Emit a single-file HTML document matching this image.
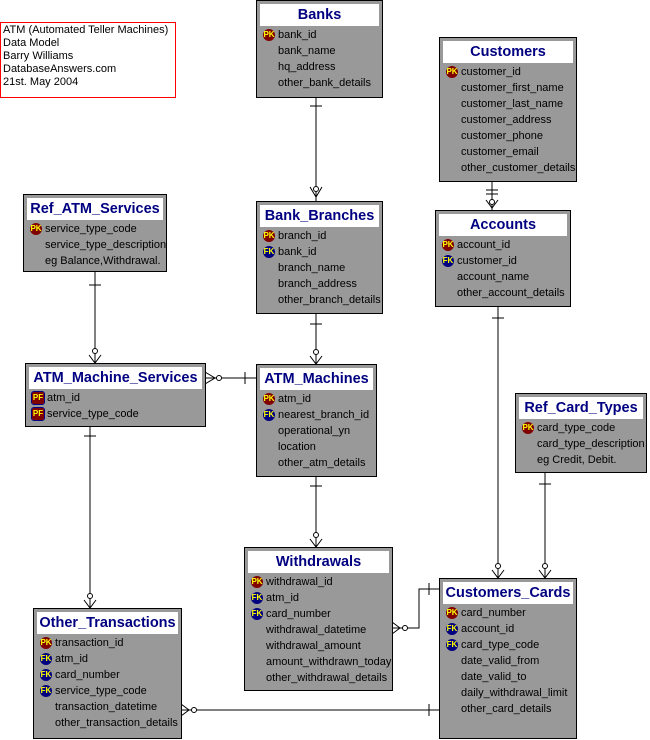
<!DOCTYPE html>
<html><head><meta charset="utf-8"><style>
body{margin:0;width:650px;height:740px;background:#fff;position:relative;overflow:hidden;font-family:"Liberation Sans",Arial,sans-serif;}
.e{position:absolute;background:#999;border:1px solid #000;box-sizing:border-box;}
.t{margin:3px 3px 1px 3px;background:#fff;height:22px;line-height:22px;text-align:center;color:#000080;font-weight:bold;font-size:14.5px;white-space:nowrap;}
.r{height:16px;line-height:16px;font-size:11px;color:#000;padding-left:21px;position:relative;white-space:nowrap;}
.i{position:absolute;left:6px;top:2px;width:12px;height:12px;border-radius:6px;font-size:8px;line-height:12px;text-align:center;color:#ff0;font-weight:bold;}
.pk{background:#800000;}
.fk{background:#000080;}
.pf{background:#800000;border-radius:2px;outline:1px solid #000080;}
#note{position:absolute;left:0;top:22px;width:176px;height:76px;border:1px solid #f00;box-sizing:border-box;font-size:11px;line-height:13px;padding:1px 2px;}
svg{position:absolute;left:0;top:0;}
</style></head><body>
<div id="note">ATM (Automated Teller Machines)<br>Data Model<br>Barry Williams<br>DatabaseAnswers.com<br>21st. May 2004</div>
<svg width="650" height="740" stroke="#000" fill="none" stroke-width="1">
<path d="M316 97V201M310 106H322M310 187L316 197L322 187M316 187V201"/><circle cx="316" cy="189" r="2.5" fill="#fff"/>
<path d="M492 181V210M486 190H498M486 194H498M486 200L492 208L498 200"/><circle cx="492" cy="202" r="2.5" fill="#fff"/>
<path d="M95 271V363M89 285H101M89 355L95 363L101 355"/><circle cx="95" cy="351" r="2.5" fill="#fff"/>
<path d="M316 313V364M310 324H322M310 356L316 364L322 356"/><circle cx="316" cy="352" r="2.5" fill="#fff"/>
<path d="M205 378H256M245 372V384M205 372L215 378L205 384"/><circle cx="219" cy="378" r="2.5" fill="#fff"/>
<path d="M498 306V578M492 318H504M492 570L498 578L504 570"/><circle cx="498" cy="566" r="2.5" fill="#fff"/>
<path d="M545 472V578M539 484H551M539 570L545 578L551 570"/><circle cx="545" cy="566" r="2.5" fill="#fff"/>
<path d="M316 476V547M310 486H322M310 539L316 547L322 539"/><circle cx="316" cy="535" r="2.5" fill="#fff"/>
<path d="M90 426V608M84 436H96M84 600L90 608L96 600"/><circle cx="90" cy="596" r="2.5" fill="#fff"/>
<path d="M392 628H419V589H439M429 583V595M392 622L400 628L392 634"/><circle cx="405" cy="628" r="2.5" fill="#fff"/>
<path d="M181 710H439M429 704V716M181 704L189 710L181 716"/><circle cx="194" cy="710" r="2.5" fill="#fff"/>
</svg>

<div class="e" style="left:256px;top:0;width:127px;height:98px"><div class="t">Banks</div>
<div class="r"><span class="i pk">PK</span>bank_id</div><div class="r">bank_name</div><div class="r">hq_address</div><div class="r">other_bank_details</div></div>

<div class="e" style="left:439px;top:37px;width:138px;height:145px"><div class="t">Customers</div>
<div class="r"><span class="i pk">PK</span>customer_id</div><div class="r">customer_first_name</div><div class="r">customer_last_name</div><div class="r">customer_address</div><div class="r">customer_phone</div><div class="r">customer_email</div><div class="r">other_customer_details</div></div>

<div class="e" style="left:23px;top:194px;width:144px;height:78px"><div class="t">Ref_ATM_Services</div>
<div class="r"><span class="i pk">PK</span>service_type_code</div><div class="r">service_type_description</div><div class="r">eg Balance,Withdrawal.</div></div>

<div class="e" style="left:256px;top:201px;width:127px;height:113px"><div class="t">Bank_Branches</div>
<div class="r"><span class="i pk">PK</span>branch_id</div><div class="r"><span class="i fk">FK</span>bank_id</div><div class="r">branch_name</div><div class="r">branch_address</div><div class="r">other_branch_details</div></div>

<div class="e" style="left:435px;top:210px;width:136px;height:97px"><div class="t">Accounts</div>
<div class="r"><span class="i pk">PK</span>account_id</div><div class="r"><span class="i fk">FK</span>customer_id</div><div class="r">account_name</div><div class="r">other_account_details</div></div>

<div class="e" style="left:25px;top:363px;width:181px;height:64px"><div class="t">ATM_Machine_Services</div>
<div class="r"><span class="i pf">PF</span>atm_id</div><div class="r"><span class="i pf">PF</span>service_type_code</div></div>

<div class="e" style="left:256px;top:364px;width:121px;height:113px"><div class="t">ATM_Machines</div>
<div class="r"><span class="i pk">PK</span>atm_id</div><div class="r"><span class="i fk">FK</span>nearest_branch_id</div><div class="r">operational_yn</div><div class="r">location</div><div class="r">other_atm_details</div></div>

<div class="e" style="left:515px;top:393px;width:132px;height:80px"><div class="t">Ref_Card_Types</div>
<div class="r"><span class="i pk">PK</span>card_type_code</div><div class="r">card_type_description</div><div class="r">eg Credit, Debit.</div></div>

<div class="e" style="left:244px;top:547px;width:149px;height:144px"><div class="t">Withdrawals</div>
<div class="r"><span class="i pk">PK</span>withdrawal_id</div><div class="r"><span class="i fk">FK</span>atm_id</div><div class="r"><span class="i fk">FK</span>card_number</div><div class="r">withdrawal_datetime</div><div class="r">withdrawal_amount</div><div class="r">amount_withdrawn_today</div><div class="r">other_withdrawal_details</div></div>

<div class="e" style="left:439px;top:578px;width:138px;height:161px"><div class="t">Customers_Cards</div>
<div class="r"><span class="i pk">PK</span>card_number</div><div class="r"><span class="i fk">FK</span>account_id</div><div class="r"><span class="i fk">FK</span>card_type_code</div><div class="r">date_valid_from</div><div class="r">date_valid_to</div><div class="r">daily_withdrawal_limit</div><div class="r">other_card_details</div></div>

<div class="e" style="left:33px;top:608px;width:149px;height:131px"><div class="t">Other_Transactions</div>
<div class="r"><span class="i pk">PK</span>transaction_id</div><div class="r"><span class="i fk">FK</span>atm_id</div><div class="r"><span class="i fk">FK</span>card_number</div><div class="r"><span class="i fk">FK</span>service_type_code</div><div class="r">transaction_datetime</div><div class="r">other_transaction_details</div></div>
</body></html>
